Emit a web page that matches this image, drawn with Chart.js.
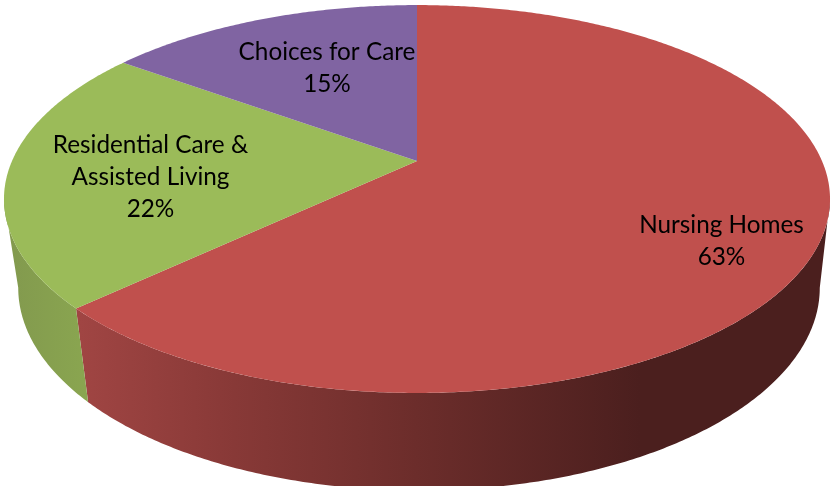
<!DOCTYPE html>
<html>
<head>
<meta charset="utf-8">
<style>html,body{margin:0;padding:0;background:#fff}canvas{display:block}</style>
<script src="https://cdn.jsdelivr.net/npm/chart.js@4"></script>
</head>
<body>
<canvas id="c" width="831" height="486"></canvas>
<script>
const categories = ["Nursing Homes", "Residential Care & Assisted Living", "Choices for Care"];
const values = [63, 22, 15];
const labelLines = [["Nursing Homes", "63%"], ["Residential Care &", "Assisted Living", "22%"], ["Choices for Care", "15%"]];
const topColors = ["#c0504d", "#9bbb59", "#8064a2"];

// view geometry of the tilted disc (perspective projection)
const view = {p: 0.196, top: {cx: 417, a: 405, b: 186.5, y: 161}, bottom: {cx: 419, a: 393, b: 195, y: 248}};
const labelAnchors = [[721.5, 233], [150.5, 153], [327, 60]];
const lineHeight = 32;
const project = (f, ang) => {
  const u = Math.cos(ang), v = Math.sin(ang), w = 1 - view.p * v;
  return [f.cx + f.a * u / w, f.y + f.b * v / w];
};

const tiltedPie = {
  id: 'tiltedPie',
  beforeDatasetsDraw(chart) {
    const ctx = chart.ctx;
    const arcs = chart.getDatasetMeta(0).data;
    const redSide = ctx.createLinearGradient(80, 0, 640, 0);
    redSide.addColorStop(0, '#a04543');
    redSide.addColorStop(0.25, '#8a3a38');
    redSide.addColorStop(0.6, '#6c2d2b');
    redSide.addColorStop(1, '#4b1f1e');
    const greenSide = ctx.createLinearGradient(5, 0, 90, 0);
    greenSide.addColorStop(0, '#82994e');
    greenSide.addColorStop(1, '#8aa650');
    const sideFill = [redSide, greenSide, '#67508a'];
    const step = Math.PI / 360;
    const lo = Math.asin(view.p), hi = Math.PI - lo;
    // side wall: only the part facing the viewer
    arcs.forEach((arc, i) => {
      const s = Math.max(arc.startAngle, lo), e = Math.min(arc.endAngle, hi);
      if (e <= s) return;
      ctx.beginPath();
      for (let t = s; ; t += step) {
        const q = project(view.top, Math.min(t, e));
        ctx.lineTo(q[0], q[1]);
        if (t >= e) break;
      }
      for (let t = e; ; t -= step) {
        const q = project(view.bottom, Math.max(t, s));
        ctx.lineTo(q[0], q[1]);
        if (t <= s) break;
      }
      ctx.closePath();
      ctx.fillStyle = sideFill[i];
      ctx.fill();
    });
    // top face
    arcs.forEach((arc, i) => {
      ctx.beginPath();
      ctx.moveTo(view.top.cx, view.top.y);
      for (let t = arc.startAngle; ; t += step) {
        const q = project(view.top, Math.min(t, arc.endAngle));
        ctx.lineTo(q[0], q[1]);
        if (t >= arc.endAngle) break;
      }
      ctx.closePath();
      ctx.fillStyle = topColors[i];
      ctx.fill();
    });
    return false;
  },
  afterDraw(chart) {
    const ctx = chart.ctx;
    ctx.save();
    ctx.fillStyle = '#000';
    ctx.font = '24.3px Lato, "Open Sans", sans-serif';
    ctx.textAlign = 'center';
    ctx.textBaseline = 'alphabetic';
    labelLines.forEach((lines, i) => {
      lines.forEach((line, j) => {
        ctx.fillText(line, labelAnchors[i][0], labelAnchors[i][1] + j * lineHeight);
      });
    });
    ctx.restore();
  }
};

new Chart(document.getElementById('c'), {
  type: 'pie',
  data: {labels: categories, datasets: [{data: values, backgroundColor: topColors, borderWidth: 0}]},
  options: {
    responsive: false,
    animation: false,
    plugins: {legend: {display: false}, tooltip: {enabled: false}}
  },
  plugins: [tiltedPie]
});
</script>
</body>
</html>
